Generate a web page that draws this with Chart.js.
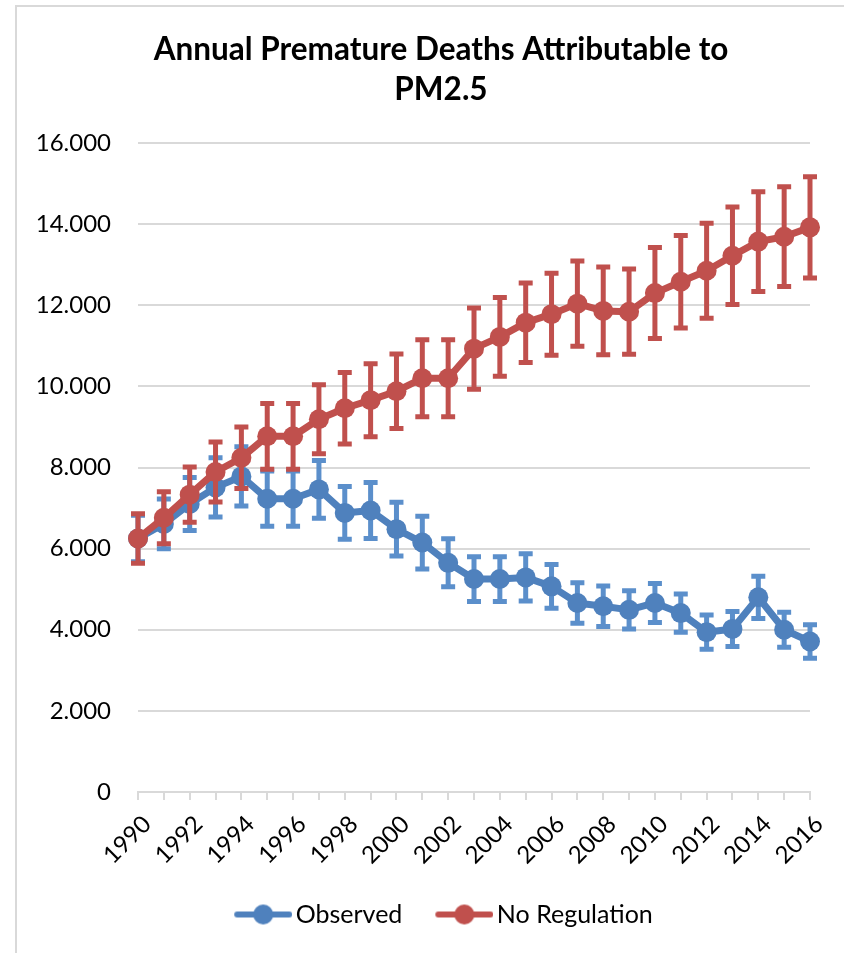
<!DOCTYPE html>
<html>
<head>
<meta charset="utf-8">
<script src="https://cdn.jsdelivr.net/npm/chart.js@4.4.1/dist/chart.umd.min.js"></script>
<style>
    html, body { margin: 0; padding: 0; background: #fff; overflow: hidden; }
    #frame {
        position: absolute;
        left: 15px;
        top: 5px;
        border: 2px solid #d9d9d9;
        width: 848px;
        height: 960px;
    }
    #myChart { display: block; }
</style>
</head>
<body>
<div id="frame">
    <canvas id="myChart" width="848" height="946"></canvas>
</div>
<script>
// datos
const years = [1990, 1991, 1992, 1993, 1994, 1995, 1996, 1997, 1998, 1999, 2000, 2001, 2002,
    2003, 2004, 2005, 2006, 2007, 2008, 2009, 2010, 2011, 2012, 2013, 2014, 2015, 2016];

const observed = [6250, 6610, 7100, 7510, 7780, 7230, 7230, 7460, 6880, 6940, 6480, 6150, 5650,
    5250, 5250, 5290, 5070, 4660, 4580, 4490, 4660, 4410, 3940, 4020, 4800, 4000, 3710];
const observedErr = [620, 660, 700, 780, 780, 730, 730, 760, 700, 740, 710, 700, 640,
    600, 600, 630, 590, 550, 550, 520, 530, 520, 470, 480, 570, 480, 460];

const noRegulation = [6250, 6760, 7330, 7890, 8240, 8770, 8770, 9190, 9460, 9660, 9880, 10200, 10200,
    10930, 11220, 11570, 11780, 12040, 11860, 11840, 12300, 12580, 12850, 13220, 13570, 13690, 13920];
const noRegulationErr = [660, 690, 730, 790, 810, 860, 860, 900, 930, 950, 970, 1000, 1000,
    1050, 1020, 1030, 1060, 1100, 1130, 1100, 1170, 1190, 1220, 1250, 1280, 1280, 1300];

const yTicks = [0, 2000, 4000, 6000, 8000, 10000, 12000, 14000, 16000];

const azul = '#4F81BD';
const rojo = '#C0504D';

// icono de leyenda: linea con marcador (margen transparente a la izquierda)
const iconoLeyenda = (color) => {
    const c = document.createElement('canvas');
    c.width = 72;
    c.height = 22;
    const g = c.getContext('2d');
    g.strokeStyle = color;
    g.lineWidth = 6;
    g.lineCap = 'round';
    g.beginPath();
    g.moveTo(17, 11);
    g.lineTo(69, 11);
    g.stroke();
    g.fillStyle = color;
    g.beginPath();
    g.arc(43, 11, 10, 0, Math.PI * 2);
    g.fill();
    return c;
};
const iconos = [iconoLeyenda(azul), iconoLeyenda(rojo)];

// barras de error dibujadas con las escalas del grafico
const errorBars = {
    id: 'errorBars',
    beforeDatasetDraw(chart, args) {
        const ds = chart.data.datasets[args.index];
        if (!ds.errors) return;
        const y = chart.scales.y;
        const ctx = chart.ctx;
        ctx.save();
        ctx.strokeStyle = ds.errorColor;
        ctx.lineWidth = 5;
        args.meta.data.forEach((pt, i) => {
            const v = ds.data[i];
            const e = ds.errors[i];
            const top = y.getPixelForValue(v + e);
            const bot = y.getPixelForValue(v - e);
            ctx.beginPath();
            ctx.moveTo(pt.x, top);
            ctx.lineTo(pt.x, bot);
            ctx.moveTo(pt.x - 7, top + 2);
            ctx.lineTo(pt.x + 7, top + 2);
            ctx.moveTo(pt.x - 7, bot - 2);
            ctx.lineTo(pt.x + 7, bot - 2);
            ctx.stroke();
        });
        ctx.restore();
    }
};

var ctx = document.getElementById('myChart').getContext('2d');
var myChart = new Chart(ctx, {
    type: 'line',
    data: {
        labels: years,
        datasets: [{
            label: 'Observed',
            data: observed,
            errors: observedErr,
            errorColor: '#5B8FCB',
            borderColor: azul,
            backgroundColor: azul,
            pointBackgroundColor: azul,
            borderWidth: 7,
            pointRadius: 10,
            pointHoverRadius: 10,
            pointBorderWidth: 0,
            borderJoinStyle: 'round',
            tension: 0,
            order: 1
        }, {
            label: 'No Regulation',
            data: noRegulation,
            errors: noRegulationErr,
            errorColor: rojo,
            borderColor: rojo,
            backgroundColor: rojo,
            pointBackgroundColor: rojo,
            borderWidth: 7,
            pointRadius: 10,
            pointHoverRadius: 10,
            pointBorderWidth: 0,
            borderJoinStyle: 'round',
            tension: 0,
            order: 0
        }]
    },
    options: {
        responsive: false,
        animation: false,
        layout: {
            padding: { top: 0, left: 0, right: 0, bottom: 16 }
        },
        scales: {
            x: {
                offset: false,
                grid: {
                    drawOnChartArea: false,
                    drawTicks: true,
                    tickLength: 8,
                    color: '#d9d9d9',
                    lineWidth: 2
                },
                border: { color: '#d9d9d9', width: 2 },
                ticks: {
                    autoSkip: false,
                    maxRotation: 45,
                    minRotation: 45,
                    padding: 10,
                    labelOffset: 9,
                    color: '#000',
                    font: { family: 'Lato', size: 24 },
                    callback: function (val, i) {
                        return i % 2 === 0 ? this.getLabelForValue(val) : '';
                    }
                },
                afterFit: (s) => { s.height = 82; }
            },
            y: {
                min: 0,
                max: 16000,
                afterBuildTicks: (s) => { s.ticks = yTicks.map(v => ({ value: v })); },
                grid: { color: '#d9d9d9', lineWidth: 2, drawTicks: false },
                border: { display: false },
                ticks: {
                    padding: 27,
                    color: '#000',
                    font: { family: 'Lato', size: 24 },
                    callback: (v) => v.toLocaleString('de-DE')
                },
                afterFit: (s) => { s.width = 121; }
            },
            derecha: {
                position: 'right',
                display: true,
                grid: { display: false },
                border: { display: false },
                ticks: { display: false },
                afterFit: (s) => { s.width = 55; }
            }
        },
        plugins: {
            title: {
                display: true,
                text: ['Annual Premature Deaths Attributable to', 'PM2.5'],
                color: '#000',
                font: { family: 'Lato', size: 31.5, weight: 'bold', lineHeight: '40px' },
                padding: { top: 23, bottom: 33 }
            },
            legend: {
                position: 'bottom',
                labels: {
                    usePointStyle: true,
                    pointStyleWidth: 54,
                    padding: 28,
                    color: '#000',
                    font: { family: 'Lato', size: 25 },
                    sort: (a, b) => a.datasetIndex - b.datasetIndex,
                    generateLabels: (chart) => {
                        const items = Chart.defaults.plugins.legend.labels.generateLabels(chart);
                        items.forEach(it => { it.pointStyle = iconos[it.datasetIndex]; });
                        return items;
                    }
                }
            },
            tooltip: { enabled: false }
        }
    },
    plugins: [errorBars]
});
</script>
</body>
</html>
